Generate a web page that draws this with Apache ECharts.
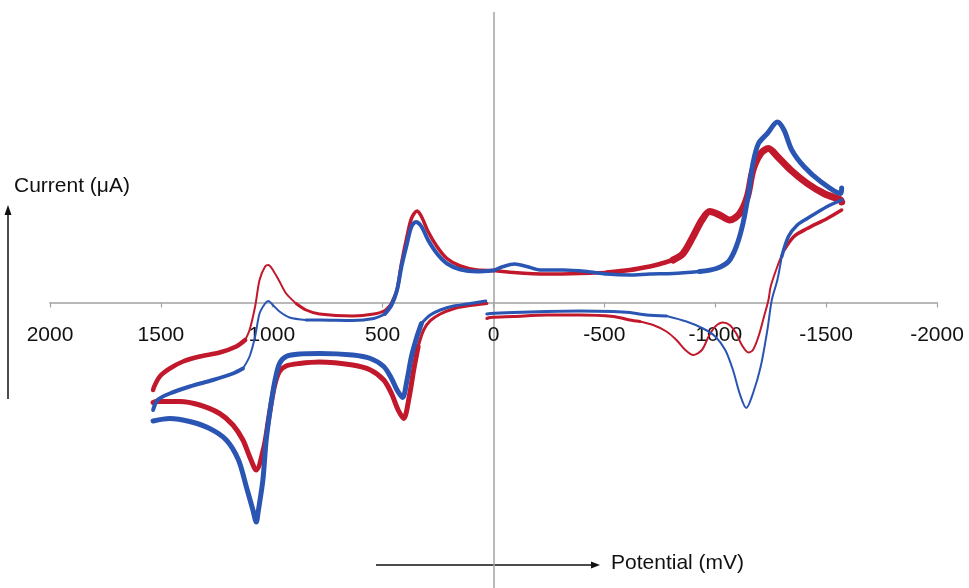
<!DOCTYPE html>
<html>
<head>
<meta charset="utf-8">
<script src="https://cdn.jsdelivr.net/npm/echarts@6/dist/echarts.min.js"></script>
<style>
  html, body { margin: 0; padding: 0; background: #fff; }
  #chart { width: 969px; height: 588px; }
</style>
</head>
<body>
<div id="chart"></div>
<script>
// potential in mV, current in arbitrary µA units (no y labels on the original)
const xTicks = [2000, 1500, 1000, 500, 0, -500, -1000, -1500, -2000];

// red scan: 0 -> +1535 (lower), +1535 -> 0 (upper), 0 -> -1570 (upper), -1570 -> 0 (lower)
const redLowerLeft = [
  [30, -0.1], [120, -0.35], [180, -0.62], [240, -1.15], [285, -1.82], [315, -2.75], [340, -4.42],
  [360, -6.75], [380, -9.42], [405, -11.6], [430, -10.75], [460, -9.1], [495, -7.75], [555, -6.75],
  [635, -6.25], [785, -5.95], [875, -6.1], [935, -6.35], [965, -6.9], [985, -8.1], [1000, -9.75],
  [1015, -11.75], [1035, -14.4], [1070, -16.75], [1100, -15.4], [1130, -13.75], [1175, -12.25],
  [1235, -11.1], [1325, -10.25], [1415, -9.9], [1520, -9.9], [1535, -10.0]
];
const redUpperLeft = [
  [1535, -8.75], [1530, -8.4], [1505, -7.4], [1460, -6.6], [1400, -5.9], [1325, -5.4], [1235, -5.0],
  [1160, -4.4], [1120, -3.75], [1100, -2.75], [1075, -0.4], [1055, 2.25], [1030, 3.6], [1015, 3.75],
  [995, 3.25], [965, 2.1], [935, 0.9], [890, -0.1], [845, -0.75], [785, -1.15], [635, -1.35],
  [540, -1.15], [490, -0.8], [460, -0.1], [435, 1.25], [415, 3.9], [390, 6.6], [370, 8.4],
  [345, 9.15], [325, 8.6], [295, 7.1], [255, 5.6], [210, 4.4], [150, 3.65], [75, 3.25], [0, 3.2]
];
const redUpperRight = [
  [0, 3.2], [-90, 3.0], [-240, 2.85], [-390, 2.9], [-510, 3.0], [-615, 3.25], [-705, 3.6],
  [-750, 3.85], [-810, 4.25], [-855, 4.9], [-900, 6.6], [-940, 8.25], [-975, 9.1], [-1020, 8.75],
  [-1065, 8.25], [-1110, 8.9], [-1145, 10.6], [-1170, 13.25], [-1205, 14.9], [-1240, 15.4],
  [-1280, 14.6], [-1340, 13.25], [-1415, 11.9], [-1490, 10.9], [-1565, 10.25], [-1570, 10.05]
];
const redLowerRight = [
  [-1570, 9.25], [-1505, 8.4], [-1415, 7.4], [-1355, 6.6], [-1310, 5.25], [-1280, 3.6],
  [-1250, 1.6], [-1240, 0.25], [-1220, -1.4], [-1195, -3.4], [-1170, -4.75], [-1150, -5.0],
  [-1120, -4.25], [-1095, -3.1], [-1065, -2.25], [-1035, -2.0], [-1000, -2.4], [-970, -3.4],
  [-940, -4.75], [-900, -5.25], [-865, -4.75], [-825, -3.75], [-780, -2.9], [-720, -2.25],
  [-660, -1.9], [-615, -1.75], [-540, -1.4], [-390, -1.25], [-240, -1.25], [-90, -1.4],
  [15, -1.5], [30, -1.6]
];

// blue scan, same sweep order
const blueLowerLeft = [
  [35, 0.15], [120, -0.15], [180, -0.35], [240, -0.75], [285, -1.25], [325, -2.1], [345, -3.4],
  [370, -5.4], [390, -7.75], [410, -9.5], [435, -8.75], [460, -7.6], [495, -6.4], [555, -5.6],
  [635, -5.25], [785, -5.1], [875, -5.15], [935, -5.4], [965, -6.1], [985, -7.75], [1005, -10.4],
  [1025, -13.75], [1040, -17.75], [1060, -20.75], [1070, -21.95], [1085, -20.75], [1115, -18.4],
  [1150, -15.75], [1205, -13.75], [1280, -12.6], [1370, -11.9], [1460, -11.6], [1535, -11.85]
];
const blueUpperLeft = [
  [1535, -10.75], [1515, -9.75], [1460, -9.1], [1370, -8.4], [1265, -7.75], [1175, -7.1],
  [1130, -6.6], [1100, -5.4], [1075, -3.4], [1055, -1.1], [1030, -0.1], [1015, 0.15], [995, -0.25],
  [965, -0.9], [920, -1.5], [845, -1.75], [785, -1.75], [635, -1.8], [540, -1.6], [490, -1.15],
  [460, -0.25], [435, 1.25], [415, 3.6], [390, 5.9], [370, 7.6], [350, 8.05], [325, 7.6],
  [295, 6.25], [255, 4.9], [210, 3.9], [150, 3.3], [75, 3.1], [0, 3.2]
];
const blueUpperRight = [
  [0, 3.2], [-45, 3.6], [-95, 3.85], [-150, 3.6], [-210, 3.25], [-315, 3.25], [-420, 3.1],
  [-510, 2.85], [-615, 2.75], [-705, 2.85], [-810, 2.9], [-930, 3.1], [-1005, 3.4], [-1060, 4.1],
  [-1095, 5.6], [-1125, 7.9], [-1150, 10.9], [-1170, 13.9], [-1195, 15.9], [-1235, 16.9],
  [-1280, 18.05], [-1310, 17.25], [-1345, 15.25], [-1400, 13.6], [-1475, 12.1], [-1565, 10.9],
  [-1570, 11.45]
];
const blueLowerRight = [
  [-1570, 10.25], [-1505, 9.6], [-1415, 8.4], [-1370, 7.75], [-1330, 6.6], [-1300, 4.6],
  [-1280, 2.25], [-1255, 0.25], [-1235, -2.75], [-1205, -6.4], [-1170, -9.1], [-1140, -10.55],
  [-1110, -9.1], [-1080, -6.75], [-1045, -4.75], [-1000, -3.4], [-945, -2.6], [-870, -1.9],
  [-780, -1.35], [-690, -1.25], [-615, -1.0], [-540, -0.9], [-390, -0.85], [-240, -0.9],
  [-90, -1.0], [15, -1.1], [30, -1.15]
];

const RED = '#c1182c';
const BLUE = '#2a55b3';
const FONT = "'Liberation Sans', Arial, sans-serif";

// line width changes along the sweep (overlapping scans look thicker): [fromIdx, toIdx, width]
const pieces = [
  { data: redLowerLeft, color: RED, widths: [[0, 6, 3], [6, 31, 5]] },
  { data: redUpperLeft, color: RED, widths: [[0, 8, 4.5], [8, 17, 2], [17, 23, 3], [23, 35, 3.5]] },
  { data: redUpperRight, color: RED, widths: [[0, 4, 3.5], [4, 8, 4.5], [8, 25, 7]] },
  { data: redLowerRight, color: RED, widths: [[0, 4, 3.5], [4, 24, 2], [24, 31, 3]] },
  { data: blueLowerLeft, color: BLUE, widths: [[0, 5, 3], [5, 32, 5]] },
  { data: blueUpperLeft, color: BLUE, widths: [[0, 6, 4], [6, 15, 2], [15, 19, 3], [19, 32, 4]] },
  { data: blueUpperRight, color: BLUE, widths: [[0, 11, 3.5], [11, 26, 5]] },
  { data: blueLowerRight, color: BLUE, widths: [[0, 5, 3.5], [5, 18, 2], [18, 26, 3]] }
];

const series = [];
pieces.forEach(p => {
  p.widths.forEach(w => {
    series.push({
      type: 'line',
      data: p.data.slice(w[0], w[1] + 1),
      showSymbol: false,
      symbol: 'none',
      smooth: 0.3,
      lineStyle: { color: p.color, width: w[2], cap: 'round', join: 'round' },
      silent: true
    });
  });
});

const myChart = echarts.init(document.getElementById('chart'));
const option = {
  animation: false,
  backgroundColor: '#ffffff',
  grid: { left: 50, right: 32, top: 12.5, height: 580, containLabel: false, outerBoundsMode: 'none' },
  xAxis: {
    type: 'value',
    inverse: true,
    min: -2000,
    max: 2000,
    interval: 500,
    position: 'bottom',
    offset: -290, // lift the axis from the grid bottom up to the zero-current line
    axisLine: { onZero: false, lineStyle: { color: '#a3a3a3', width: 1.5 } },
    axisTick: { show: true, length: 5, lineStyle: { color: '#a3a3a3', width: 1.2 } },
    axisLabel: {
      margin: 22,
      color: '#111',
      fontSize: 21,
      fontFamily: FONT,
      formatter: v => (xTicks.indexOf(v) >= 0 ? String(v) : '')
    },
    splitLine: { show: false }
  },
  yAxis: {
    type: 'value',
    min: -29,
    max: 29,
    axisLine: { show: true, onZero: true, lineStyle: { color: '#a3a3a3', width: 1.5 } },
    axisTick: { show: false },
    axisLabel: { show: false },
    splitLine: { show: false }
  },
  graphic: [
    { type: 'text', left: 14, top: 176, style: { text: 'Current (μA)', font: '21px ' + FONT, fill: '#111' } },
    { type: 'line', shape: { x1: 8, y1: 399, x2: 8, y2: 212 }, style: { stroke: '#111', lineWidth: 1.5 } },
    { type: 'polygon', shape: { points: [[8, 205], [4.5, 215], [11.5, 215]] }, style: { fill: '#111' } },
    { type: 'text', left: 611, top: 553, style: { text: 'Potential (mV)', font: '21px ' + FONT, fill: '#111' } },
    { type: 'line', shape: { x1: 376, y1: 565, x2: 593, y2: 565 }, style: { stroke: '#111', lineWidth: 1.5 } },
    { type: 'polygon', shape: { points: [[600, 565], [591, 561.5], [591, 568.5]] }, style: { fill: '#111' } }
  ],
  series: series
};
myChart.setOption(option);
window.addEventListener('resize', () => {
  myChart.resize();
});
</script>
</body>
</html>
